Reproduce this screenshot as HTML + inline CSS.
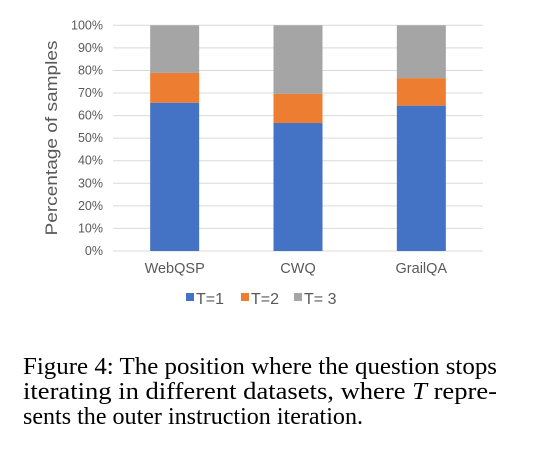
<!DOCTYPE html>
<html><head><meta charset="utf-8"><style>
html,body{margin:0;padding:0;background:#fff;}
svg{display:block;}
</style></head><body>
<svg id="chart" width="535" height="457" xmlns="http://www.w3.org/2000/svg">
<g id="grid"></g><g id="bars"></g><g id="labels"></g>
<text x="57" y="138" transform="rotate(-90 57 138)" text-anchor="middle" font-family="Liberation Sans, sans-serif" font-size="17" fill="#595959" textLength="195" lengthAdjust="spacingAndGlyphs">Percentage of samples</text>
<g id="legend" font-family="Liberation Sans, sans-serif" font-size="16" fill="#595959">
<rect x="186" y="293" width="8" height="8" fill="#4472c4"/>
<text x="196" y="304">T=1</text>
<rect x="241" y="293" width="8" height="8" fill="#ed7d31"/>
<text x="251" y="304">T=2</text>
<rect x="294" y="293" width="8" height="8" fill="#a5a5a5"/>
<text x="304" y="304">T= 3</text>
</g>
<g font-family="Liberation Serif, serif" font-size="24" fill="#000">
<text x="23" y="374" textLength="474" lengthAdjust="spacingAndGlyphs">Figure 4: The position where the question stops</text>
<text x="23" y="399" textLength="474" lengthAdjust="spacingAndGlyphs">iterating  in  different  datasets,  where <tspan font-style="italic">T</tspan> repre-</text>
<text x="23" y="424" textLength="340" lengthAdjust="spacingAndGlyphs">sents the outer instruction iteration.</text>
</g>
</svg>
<script>
const categories=["WebQSP","CWQ","GrailQA"];
const t1=[65.7,56.7,64.4];
const t2=[13.2,12.9,12.2];
const t3=[21.1,30.4,23.4];
const ticks=[0,10,20,30,40,50,60,70,80,90,100];
const NS="http://www.w3.org/2000/svg";
const x0=113,x1=483,y0=251,y1=25.3;
const yS=v=>y0-(y0-y1)*v/100;
const bw=(x1-x0)/categories.length;
const xC=i=>x0+bw*(i+0.5);
function mk(t,a,p){const e=document.createElementNS(NS,t);for(const k in a)e.setAttribute(k,a[k]);p.appendChild(e);return e;}
const grid=document.getElementById('grid'),bars=document.getElementById('bars'),labels=document.getElementById('labels');
ticks.forEach(v=>{
 const l=mk('line',{x1:x0,x2:x1,y1:yS(v),y2:yS(v),stroke:'#d9d9d9','stroke-width':1},grid);
 
 
 const t=mk('text',{x:103,y:yS(v)+4,'text-anchor':'end','font-family':'Liberation Sans, sans-serif','font-size':12.5,fill:'#595959'},labels);
 t.textContent=v+'%';
 
 
});
const series=[[t1,'#4472c4','t1'],[t2,'#ed7d31','t2'],[t3,'#a5a5a5','t3']];
categories.forEach((c,i)=>{
 let acc=0;
 series.forEach(([arr,col,n])=>{
  const v=arr[i];
  const r=mk('rect',{x:xC(i)-24.5,width:49,y:yS(acc+v),height:yS(acc)-yS(acc+v),fill:col},bars);
  
  
  acc+=v;
 });
 const t=mk('text',{x:xC(i),y:273,'text-anchor':'middle','font-family':'Liberation Sans, sans-serif','font-size':14.5,fill:'#595959'},labels);
 t.textContent=c;
 
 
});
</script>
</body></html>
